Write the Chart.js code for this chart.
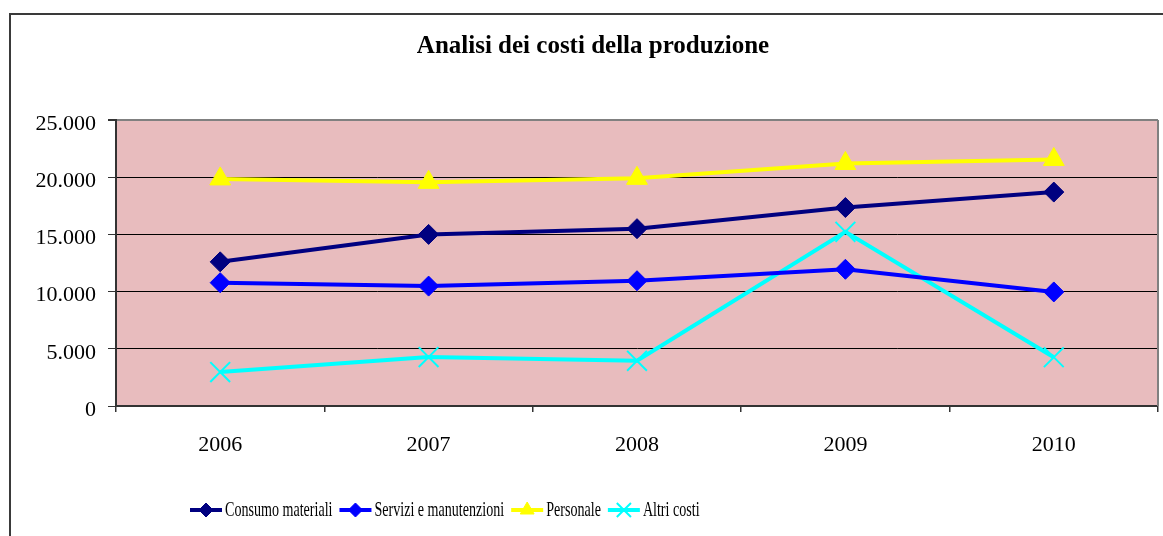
<!DOCTYPE html>
<html>
<head>
<meta charset="utf-8">
<script src="https://cdn.jsdelivr.net/npm/chart.js@4.4.0/dist/chart.umd.min.js"></script>
<style>
    html, body { margin: 0; padding: 0; background: #fff; }
    #wrap { width: 1163px; height: 536px; }
</style>
</head>
<body>
<div id="wrap"><canvas id="costiChart" width="1163" height="536"></canvas></div>
<script>
// Chart data
const years = ['2006', '2007', '2008', '2009', '2010'];
const consumoMateriali = [12600, 15000, 15500, 17350, 18700];
const serviziManutenzioni = [10780, 10480, 10950, 11950, 9970];
const personale = [19850, 19550, 19900, 21200, 21550];
const altriCosti = [2970, 4280, 3950, 15230, 4260];
const yTicks = [0, 5000, 10000, 15000, 20000, 25000];

const serif = "'Liberation Serif', 'DejaVu Serif', serif";
Chart.defaults.font.family = serif;
Chart.defaults.color = '#000';

// Thousands separator like the Italian Excel original (25.000)
function formatIt(v) {
    return String(v).replace(/\B(?=(\d{3})+(?!\d))/g, '.');
}

// White page, outer chart frame and pink plot area
const backgroundPlugin = {
    id: 'excelBackground',
    beforeDraw(chart) {
        const ctx = chart.ctx;
        const a = chart.chartArea;
        ctx.save();
        ctx.fillStyle = '#fff';
        ctx.fillRect(0, 0, chart.width, chart.height);
        ctx.strokeStyle = '#3a3a3a';
        ctx.lineWidth = 2;
        ctx.beginPath();
        ctx.moveTo(10, chart.height);
        ctx.lineTo(10, 14);
        ctx.lineTo(chart.width, 14);
        ctx.stroke();
        ctx.fillStyle = '#e8bcbe';
        ctx.fillRect(a.left, a.top, a.right - a.left, a.bottom - a.top);
        ctx.restore();
    },
    beforeDatasetsDraw(chart) {
        const ctx = chart.ctx;
        const a = chart.chartArea;
        ctx.save();
        ctx.strokeStyle = '#808080';
        ctx.lineWidth = 2;
        ctx.beginPath();
        ctx.moveTo(a.right, a.top);
        ctx.lineTo(a.right, a.bottom);
        ctx.stroke();
        ctx.restore();
    }
};

// Legend drawn the Excel way: line segment with marker, then a condensed label
const legendPlugin = {
    id: 'excelLegend',
    afterDraw(chart) {
        const ctx = chart.ctx;
        const squeeze = 0.67;
        let x = 190;
        const y = 510;
        ctx.save();
        ctx.font = '21px ' + serif;
        ctx.textBaseline = 'middle';
        ctx.textAlign = 'left';
        chart.data.datasets.forEach(ds => {
            ctx.strokeStyle = ds.borderColor;
            ctx.lineWidth = 4;
            ctx.beginPath();
            ctx.moveTo(x, y);
            ctx.lineTo(x + 32, y);
            ctx.stroke();
            ctx.fillStyle = ds.pointBackgroundColor;
            ctx.strokeStyle = ds.pointBorderColor;
            ctx.lineWidth = ds.pointBorderWidth;
            Chart.helpers.drawPoint(ctx, {
                pointStyle: ds.pointStyle,
                radius: ds.legendRadius,
                borderWidth: ds.pointBorderWidth,
                rotation: 0
            }, x + 16, y);
            const tx = x + 35;
            ctx.save();
            ctx.translate(tx, y);
            ctx.scale(squeeze, 1);
            ctx.fillStyle = '#000';
            ctx.fillText(ds.label, 0, 0);
            ctx.restore();
            x = tx + ctx.measureText(ds.label).width * squeeze + 7;
        });
        ctx.restore();
    }
};

function series(label, data, color, pointStyle, radius, legendRadius, pointBorderWidth) {
    return {
        label: label,
        data: data,
        borderColor: color,
        backgroundColor: color,
        pointBackgroundColor: color,
        pointBorderColor: color,
        pointBorderWidth: pointBorderWidth,
        pointStyle: pointStyle,
        pointRadius: radius,
        legendRadius: legendRadius,
        borderWidth: 4,
        tension: 0,
        fill: false
    };
}

new Chart(document.getElementById('costiChart'), {
    type: 'line',
    data: {
        labels: years,
        datasets: [
            series('Consumo materiali', consumoMateriali, '#000080', 'rectRot', 10, 7, 1),
            series('Servizi e manutenzioni', serviziManutenzioni, '#0000ff', 'rectRot', 10, 7, 1),
            series('Personale', personale, '#ffff00', 'triangle', 12, 8, 1),
            series('Altri costi', altriCosti, '#00ffff', 'crossRot', 14, 10, 2)
        ]
    },
    options: {
        responsive: false,
        animation: false,
        layout: { autoPadding: false, padding: { left: 28, right: 5, top: 0, bottom: 80 } },
        plugins: {
            legend: { display: false },
            tooltip: { enabled: false },
            title: {
                display: true,
                text: 'Analisi dei costi della produzione',
                color: '#000',
                font: { family: serif, size: 25, weight: 'bold' },
                padding: { top: 32, bottom: 58 }
            }
        },
        scales: {
            x: {
                offset: true,
                grid: {
                    offset: true,
                    drawOnChartArea: false,
                    drawTicks: true,
                    tickLength: 6,
                    color: '#333',
                    lineWidth: 1.5
                },
                border: { display: true, color: '#333', width: 2 },
                ticks: { font: { size: 22 }, color: '#000', padding: 20 },
                afterFit(s) {
                    s.height = 50;
                    s.paddingLeft = 0;
                    s.paddingRight = 0;
                }
            },
            y: {
                min: 0,
                max: 25000,
                afterBuildTicks(s) { s.ticks = yTicks.map(v => ({ value: v })); },
                grid: {
                    color: c => (c.tick && c.tick.value === 25000) ? '#808080' : '#000',
                    lineWidth: c => (c.tick && c.tick.value === 25000) ? 2 : 1,
                    tickColor: '#333',
                    tickLength: 8
                },
                border: { display: true, color: '#333', width: 2 },
                ticks: {
                    font: { size: 22 },
                    color: '#000',
                    padding: 12,
                    labelOffset: 4,
                    callback: v => formatIt(v)
                },
                afterFit(s) { s.width = 88; }
            }
        }
    },
    plugins: [backgroundPlugin, legendPlugin]
});
</script>
</body>
</html>
